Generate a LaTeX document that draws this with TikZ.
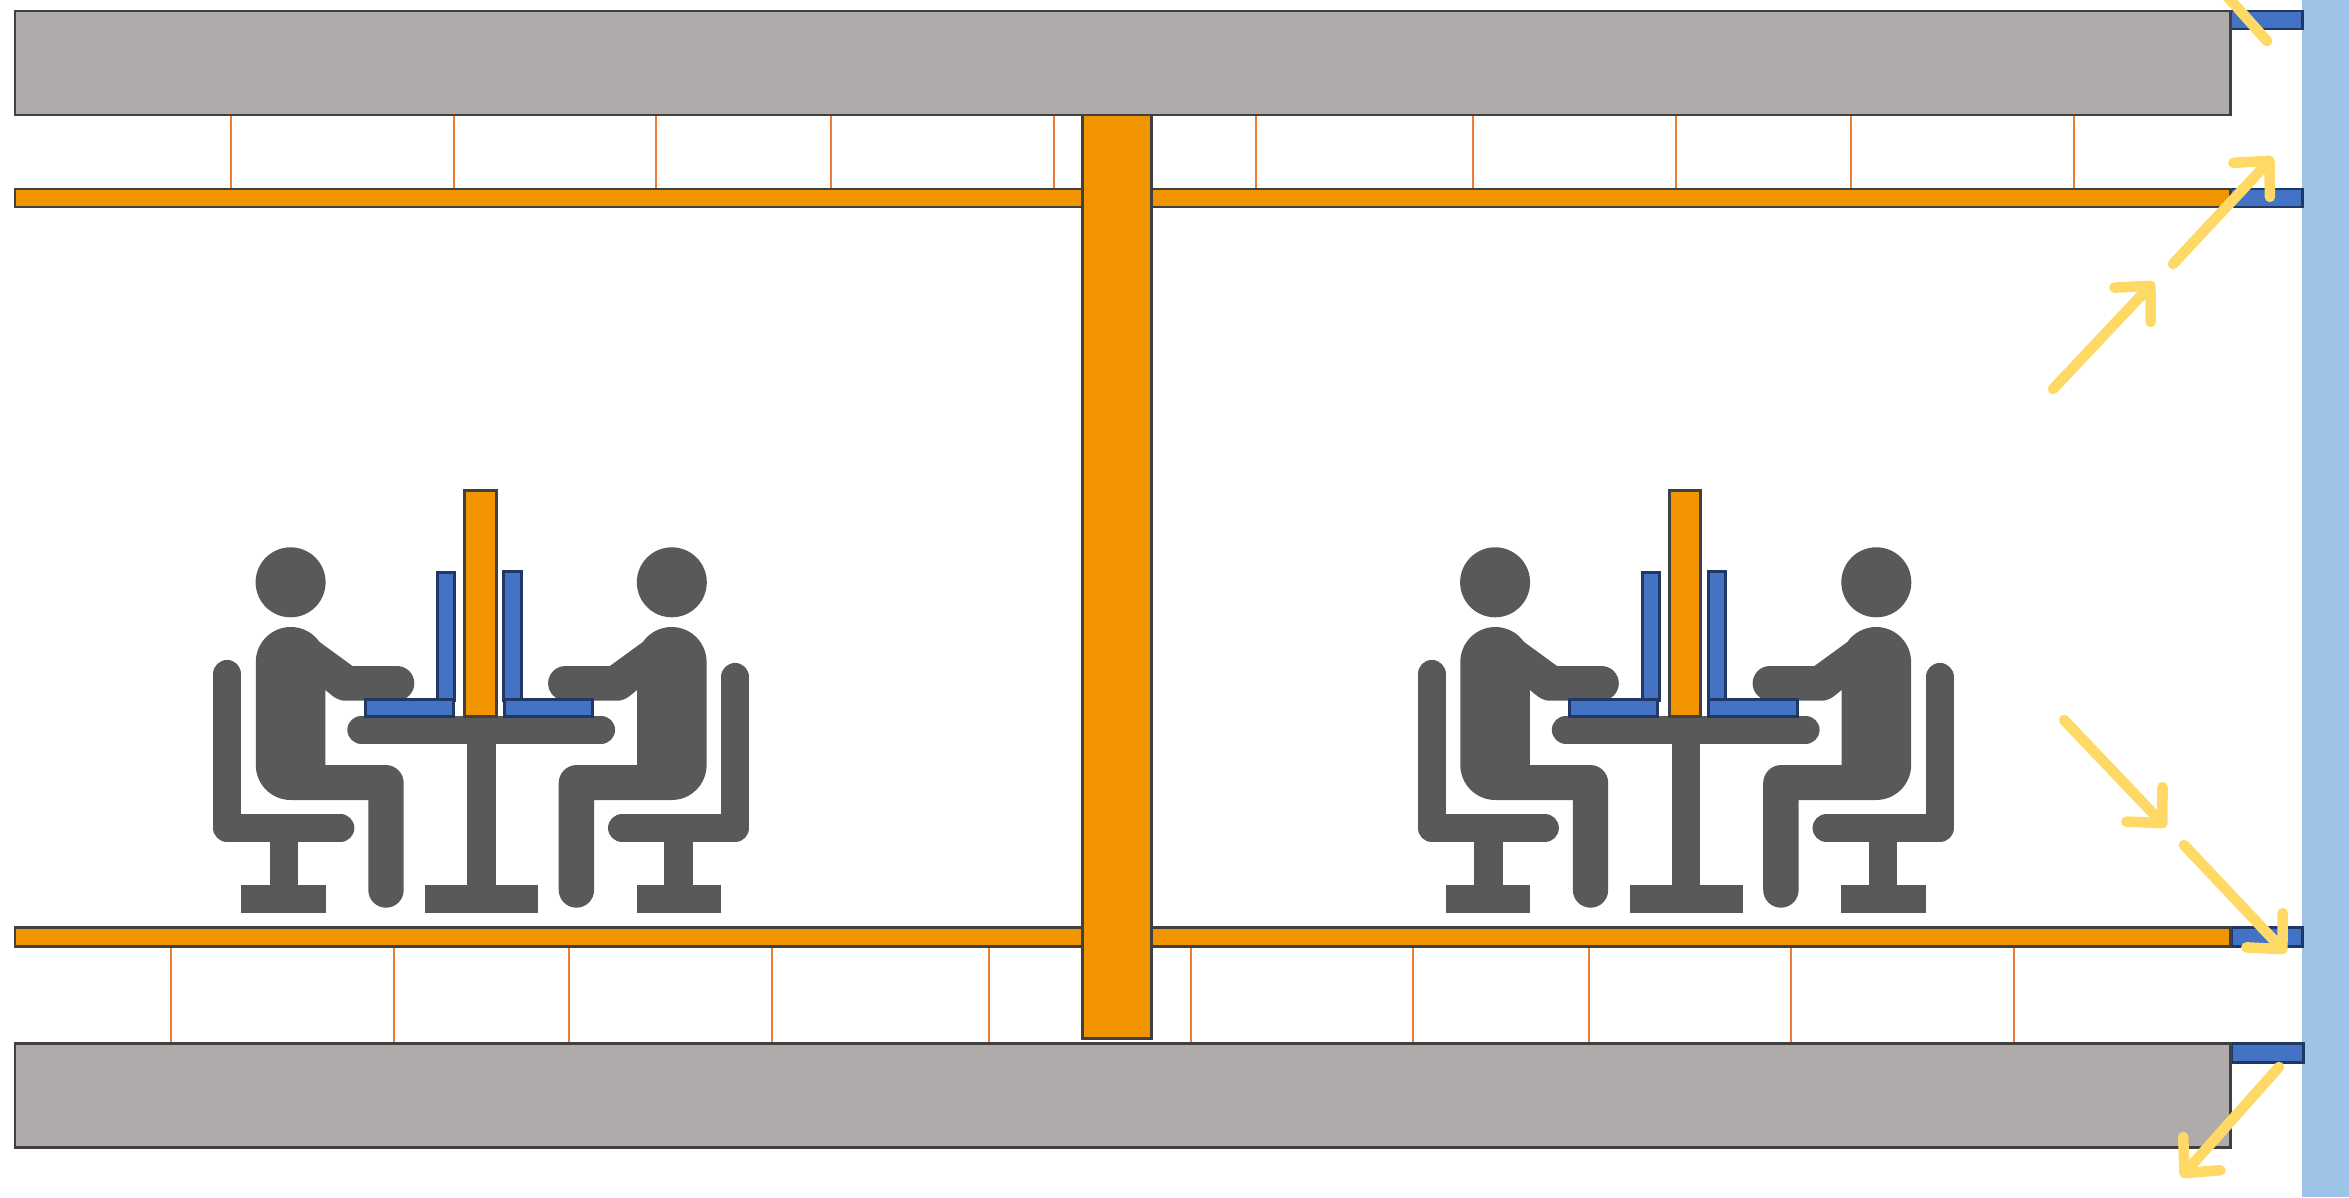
\documentclass[tikz,border=0pt]{standalone}
\definecolor{slabgray}{HTML}{AFABAB}
\definecolor{floororange}{HTML}{F29400}
\definecolor{sillblue}{HTML}{4472C4}
\definecolor{sillnavy}{HTML}{1F3864}
\definecolor{edgegray}{HTML}{404040}
\definecolor{figuregray}{HTML}{595959}
\definecolor{glassblue}{HTML}{9DC3E6}
\definecolor{sunyellow}{HTML}{FFD966}
\definecolor{tieorange}{HTML}{ED7D31}
\usepackage{tikz}
\usetikzlibrary{arrows.meta}

\begin{document}
\begin{tikzpicture}[
  x=0.01cm, y=-0.01cm,
  slab/.style={draw=edgegray, line width=0.85pt, fill=slabgray},
  floorbar/.style={draw=edgegray, line width=0.85pt, fill=floororange},
  sill/.style={draw=sillnavy, line width=0.85pt, fill=sillblue},
  tie/.style={draw=tieorange, line width=0.35pt},
  figbar/.style={draw=figuregray, line cap=round, line join=round, line width=8pt},
  sunray/.style={draw=sunyellow, line width=3pt, line cap=round,
                 -{Straight Barb[length=7.4pt, width=14.2pt, round]}},
  pics/sitter/.style={code={
    \fill[figuregray] (290.6,582.3) circle[radius=35];
    \fill[figuregray] (255.8,662) arc[start angle=180, end angle=325, radius=35]
      -- (352.5,666) -- (397,666) arc[start angle=270, end angle=450, radius=17.3]
      -- (346,700.7) .. controls (338,700.7) and (335,698) .. (325.4,690)
      -- (325.4,765) -- (385.7,765) arc[start angle=270, end angle=360, radius=18]
      -- (403.7,890) arc[start angle=0, end angle=180, radius=17.7]
      -- (368.3,800) -- (290.8,800) arc[start angle=90, end angle=180, radius=35]
      -- cycle;
    \draw[figbar] (227.2,#1) -- (227.2,828) -- (340.3,828);
    \fill[figuregray] (269.8,835) rectangle (298,885);
    \fill[figuregray] (241.2,885) rectangle (325.8,913.3);
  }}
]
\clip (0,0) rectangle (2349,1197);

% glazing
\fill[glassblue] (2302,0) rectangle (2349,1197);
\draw[sill] (2230,11) rectangle (2302,29);
\draw[sill] (2230,189) rectangle (2302,207);
\draw[sill] (2231,927) rectangle (2302,946);
\draw[sill] (2231,1043) rectangle (2303,1062);

% hangers
\foreach \tx in {231,454,656,831,1054,1256,1473,1676,1851,2074}
  \draw[tie] (\tx,115) -- (\tx,189);
\foreach \tx in {171,394,569,772,989,1191,1413,1589,1791,2014}
  \draw[tie] (\tx,946) -- (\tx,1043);

% slabs and column
\draw[slab] (15,11) rectangle (2230,115);
\draw[slab] (15,1043) rectangle (2230,1147);
\draw[floorbar] (15,189) rectangle (2230,207);
\draw[floorbar] (15,927) rectangle (2230,946);
\draw[floorbar] (1082,115) rectangle (1151,1038);

% workstations
\foreach \dx in {0,1204.5} {
  \begin{scope}[shift={(\dx,0)}]
    \pic at (0,0) {sitter=674};
    \pic[xscale=-1] at (962.4,0) {sitter=677};
    \draw[figbar] (361.4,729.7) -- (601,729.7);
    \fill[figuregray] (467.3,735) rectangle (495.5,885);
    \fill[figuregray] (425.1,885) rectangle (538,913.3);
    \draw[sill] (437.6,572.3) rectangle (454.5,700);
    \draw[sill] (503.8,571) rectangle (521,700);
    \draw[sill] (365.3,699.3) rectangle (453.4,716);
    \draw[sill] (504.1,699.3) rectangle (592.6,716);
    \draw[floorbar] (464.6,490.7) rectangle (496.2,716);
  \end{scope}
}

% light rays
\draw[sunray] (2053,389) -- (2154,282);
\draw[sunray] (2173,264) -- (2273,157);
\draw[draw=sunyellow, line width=3pt, line cap=round] (2226,-5) -- (2267,41);
\draw[sunray] (2064,720) -- (2166,827);
\draw[sunray] (2184,845) -- (2286,953);
\draw[sunray] (2279,1067) -- (2181,1177);
\end{tikzpicture}
\end{document}
